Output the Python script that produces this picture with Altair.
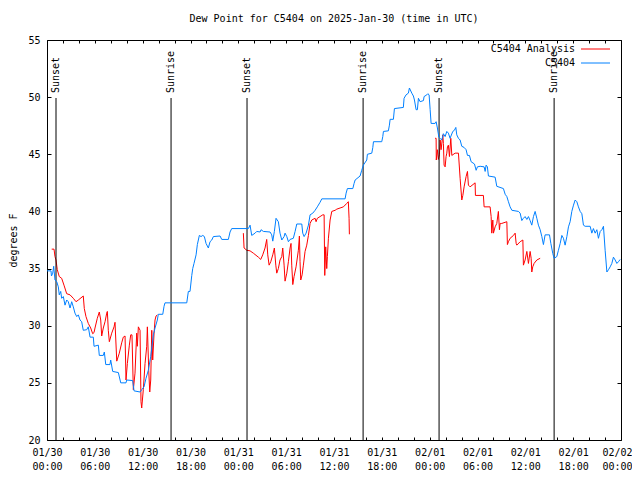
import json
import altair as alt
import pandas as pd

# ---------------- data (hours since 2025-01-30 00:00 UTC, dew point in F) ----------------
series_names = ["C5404 Analysis", "C5404"]
series_colors = ["#ff0000", "#0080ff"]

blue_hours = [0.0, 0.5, 0.56, 0.72, 0.84, 1.0, 1.22, 1.42, 1.54, 1.72, 1.84, 2.05, 2.26, 2.47, 2.67, 2.89,
              3.1, 3.3, 3.51, 3.73, 3.93, 4.14, 4.35, 4.55, 4.98, 5.18, 5.4, 5.81, 5.9, 6.44, 6.56, 7.06,
              7.19, 7.37, 7.9, 7.99, 8.24, 8.95, 9.25, 9.91, 10.0, 10.75, 10.92, 11.67, 11.88, 12.17,
              12.42, 12.71, 13.01, 13.34, 13.55, 13.84, 13.96, 14.52, 14.68, 14.8, 17.53, 17.73, 17.94,
              18.16, 18.28, 18.44, 18.7, 18.86, 19.11, 19.32, 19.54, 19.74, 19.95, 20.24, 20.45, 20.67,
              20.87, 21.71, 21.92, 22.75, 22.96, 23.17, 25.26, 25.47, 25.68, 26.1, 26.31, 26.73, 26.85,
              27.14, 27.98, 28.19, 28.32, 28.52, 28.73, 29.02, 29.23, 29.45, 29.74, 29.86, 30.08, 30.28,
              30.49, 30.9, 31.12, 31.33, 31.96, 32.08, 32.25, 32.5, 32.79, 33.0, 33.34, 33.63, 33.91,
              34.25, 34.47, 37.39, 37.52, 37.68, 38.36, 38.52, 38.65, 39.27, 39.48, 39.69, 40.11, 40.19,
              40.74, 40.87, 40.95, 41.99, 42.12, 42.2, 42.82, 42.95, 43.04, 43.45, 43.58, 44.7, 44.79,
              45.04, 45.33, 45.46, 45.76, 45.96, 46.09, 46.3, 46.46, 46.59, 46.8, 47.22, 47.3, 47.64,
              47.77, 47.93, 48.06, 48.18, 48.68, 48.81, 48.97, 49.15, 49.31, 49.52, 49.72, 49.94, 50.15,
              50.35, 50.56, 50.9, 51.1, 51.28, 51.4, 51.61, 51.82, 52.03, 52.32, 52.57, 52.74, 52.99,
              53.2, 53.62, 53.83, 53.99, 54.33, 54.83, 54.96, 55.08, 55.24, 55.37, 56.21, 56.42, 57.25,
              57.47, 57.68, 57.88, 58.09, 58.31, 59.14, 59.35, 59.56, 59.76, 59.97, 60.19, 60.39, 60.6,
              60.81, 61.02, 61.23, 61.44, 61.64, 61.86, 62.07, 62.27, 62.48, 63.03, 63.2, 63.45, 63.61,
              63.95, 64.15, 64.37, 64.58, 64.78, 64.99, 65.21, 65.41, 65.62, 65.83, 66.04, 66.25, 66.46,
              66.66, 66.88, 67.09, 67.29, 67.5, 68.13, 68.34, 68.54, 68.76, 68.97, 69.17, 69.39, 69.6,
              69.8, 70.01, 70.23, 70.43, 70.64, 70.85, 71.05, 71.27, 71.48, 71.68, 71.9]
blue_vals = [34.8, 34.8, 34.35, 34.6, 35.2, 34.0, 33.85, 33.4, 32.7, 33.0, 32.4, 32.55, 31.8, 32.25, 32.1, 31.55,
             32.1, 31.65, 31.1, 30.8, 30.95, 30.5, 30.35, 29.6, 29.65, 29.9, 29.0, 29.0, 28.2, 28.3, 27.4, 27.4,
             27.7, 26.6, 26.6, 27.0, 26.0, 25.9, 25.0, 25.0, 25.25, 25.2, 24.3, 24.2, 24.4, 24.65,
             25.4, 26.1, 27.3, 29.2, 29.8, 30.5, 31.0, 31.0, 31.7, 32.0, 32.0, 33.0, 33.0,
             34.4, 35.0, 35.45, 36.2, 37.1, 37.9, 37.8, 37.9, 37.8, 37.2, 36.8, 37.35, 37.5,
             37.8, 37.85, 37.55, 37.55, 38.2, 38.5, 38.5, 38.8, 37.9, 38.1, 38.25, 38.2, 38.4,
             38.25, 38.2, 37.95, 37.4, 38.25, 39.4, 39.1, 38.1, 37.5, 37.8, 38.1, 37.8, 37.35,
             37.55, 37.65, 38.25, 38.9, 38.9, 38.1, 37.8, 38.1, 38.8, 39.7, 39.85, 40.1, 40.4,
             40.8, 41.1, 41.1, 41.6, 42.0, 42.0, 42.45, 42.75, 43.1, 43.6, 44.06, 44.5, 45.0,
             45.1, 45.6, 46.1, 46.1, 46.55, 47.0, 47.05, 47.55, 48.06, 48.06, 49.0, 49.1, 49.9,
             50.2, 50.35, 50.8, 50.35, 50.1, 49.75, 48.9, 48.9, 49.9, 49.6, 49.7, 50.05, 50.2,
             50.3, 50.2, 48.9, 47.7, 47.7, 47.85, 47.3, 46.5, 46.4, 46.25, 46.8, 46.55, 47.0,
             46.85, 46.4, 47.0, 47.1, 47.35, 46.7, 46.4, 46.25, 45.7, 45.6, 45.4, 44.9, 44.9,
             44.35, 44.15, 43.6, 43.9, 43.95, 43.9, 43.5, 44.05, 43.9, 43.1, 43.0, 42.2, 42.0,
             41.5, 41.3, 40.85, 40.4, 40.1, 40.0, 39.85, 39.2, 39.4, 39.55, 39.3, 39.55, 39.2,
             38.8, 39.55, 40.0, 39.4, 38.8, 38.4, 37.8, 37.1, 37.95, 37.95, 37.2, 36.3, 35.9,
             36.05, 36.6, 37.2, 37.9, 37.65, 37.05, 37.8, 38.65, 39.1, 40.0, 40.55, 41.0, 40.85,
             40.4, 40.0, 39.8, 38.8, 38.7, 38.7, 38.1, 38.5, 38.1, 38.4, 37.65, 38.25, 38.4,
             38.7, 36.6, 34.7, 34.9, 35.15, 35.45, 36.0, 35.75, 35.45, 35.6, 35.8]

red1_hours = [0.59, 0.88, 1.0, 1.13, 1.29, 1.54, 1.84, 2.13, 2.47, 2.89, 3.3, 3.64, 3.93, 4.55, 4.68, 4.89,
              5.18, 5.48, 5.73, 5.9, 6.02, 6.31, 6.56, 6.74, 6.86, 7.06, 7.28, 7.49, 7.57, 7.69, 7.82,
              8.12, 8.41, 8.53, 8.75, 9.07, 9.37, 9.57, 9.79, 9.91, 10.08, 10.33, 10.5, 10.66, 10.83,
              11.04, 11.25, 11.33, 11.46, 11.67, 11.79, 11.88, 12.08, 12.3, 12.51, 12.59, 12.76, 12.89,
              13.01, 13.14, 13.26, 13.43, 13.55, 13.68, 13.84]
red1_vals = [36.7, 36.7, 36.05, 35.75, 34.9, 34.3, 34.15, 33.55, 32.8, 32.7, 32.4, 32.1, 32.25, 32.6, 31.5, 30.8,
             30.2, 29.8, 29.3, 29.4, 29.8, 30.65, 31.2, 30.5, 29.1, 29.8, 30.35, 31.1, 31.25, 29.6, 28.6,
             29.35, 29.9, 30.3, 26.9, 27.6, 28.5, 29.0, 29.1, 25.25, 26.7, 28.3, 29.2, 29.2, 24.4,
             25.85, 29.35, 28.2, 29.9, 29.6, 23.35, 22.8, 24.4, 26.7, 28.2, 29.9, 26.1, 24.2,
             25.25, 29.6, 27.0, 29.35, 30.5, 30.85, 30.95]

red2_hours = [24.63, 24.72, 25.06, 25.47, 25.88, 26.51, 26.81, 27.06, 27.35, 27.56, 27.69, 27.86, 28.07, 28.32,
              28.52, 28.7, 28.82, 29.02, 29.23, 29.45, 29.57, 29.74, 29.86, 30.08, 30.28, 30.49, 30.61, 30.7,
              30.83, 30.99, 31.24, 31.53, 31.66, 31.74, 31.83, 32.0, 32.16, 32.37, 32.58, 32.79, 33.0, 33.21,
              33.63, 33.75, 33.91, 34.25, 34.59, 34.76, 34.84, 34.96, 35.09, 35.17, 35.3, 35.51, 35.72,
              36.14, 36.35, 36.76, 37.18, 37.6, 37.8, 37.89, 37.93]
red2_vals = [38.1, 36.8, 36.6, 36.55, 36.35, 36.0, 35.8, 36.2, 36.8, 37.55, 36.2, 35.3, 35.6, 36.2,
             36.8, 35.3, 34.6, 35.0, 35.75, 36.05, 36.8, 35.3, 33.9, 34.6, 35.6, 36.8, 37.2, 35.3,
             33.6, 34.3, 35.15, 36.6, 37.85, 35.6, 34.0, 34.45, 35.3, 36.5, 37.05, 37.9, 38.95, 39.25,
             39.4, 39.1, 39.4, 39.55, 39.7, 39.7, 34.4, 36.9, 35.0, 36.05, 37.65, 39.25, 40.0,
             40.1, 40.2, 40.3, 40.4, 40.7, 40.85, 39.4, 38.0]

red3_hours = [48.68, 48.81, 48.83, 48.97, 49.09, 49.22, 49.31, 49.43, 49.65, 49.72, 49.81, 49.94, 50.06, 50.15,
              50.23, 50.35, 50.48, 50.65, 50.78, 51.19, 51.61, 51.82, 52.03, 52.16, 52.32, 52.57, 52.74,
              52.86, 53.07, 53.7, 53.74, 54.74, 54.83, 55.58, 55.71, 55.79, 55.92, 56.0, 56.21, 56.42,
              56.62, 56.75, 56.84, 57.05, 57.68, 57.75, 57.88, 58.09, 58.51, 58.72, 58.85, 58.93, 59.35,
              59.69, 59.76, 59.97, 60.19, 60.39, 60.6, 60.73, 60.81, 60.93, 61.1, 61.44, 61.86]
red3_vals = [46.4, 46.4, 44.5, 45.4, 44.55, 44.95, 46.25, 45.4, 46.7, 45.95, 44.05, 43.9, 44.8, 45.1,
             45.65, 45.8, 44.8, 46.4, 44.9, 45.1, 45.1, 42.9, 41.0, 41.4, 42.15, 43.05, 43.5,
             42.3, 42.15, 42.5, 41.4, 41.4, 40.4, 40.4, 39.55, 38.1, 39.25, 38.1, 38.65, 38.95,
             40.0, 38.4, 38.95, 38.95, 39.1, 37.1, 37.35, 37.65, 37.9, 38.1, 37.2, 37.05, 37.35,
             37.5, 35.3, 35.75, 36.5, 35.45, 36.5, 35.9, 34.7, 35.15, 35.45, 35.75, 35.9]

sun_hours = [1.13, 15.56, 25.09, 39.65, 49.18, 63.61]
sun_labels = ["Sunset", "Sunrise", "Sunset", "Sunrise", "Sunset", "Sunrise"]

x_ticks = list(range(0, 73, 2))
y_ticks = [20, 25, 30, 35, 40, 45, 50, 55]
tick_dates = ["01/30", "01/30", "01/30", "01/30", "01/31", "01/31", "01/31", "01/31",
              "02/01", "02/01", "02/01", "02/01", "02/02"]
tick_times = ["00:00", "06:00", "12:00", "18:00", "00:00", "06:00", "12:00", "18:00",
              "00:00", "06:00", "12:00", "18:00", "00:00"]

# ---------------- build tables ----------------
blue_df = pd.DataFrame({"hour": blue_hours, "value": blue_vals, "series": series_names[1], "seg": 0})
red_df = pd.concat([
    pd.DataFrame({"hour": h, "value": v, "series": series_names[0], "seg": i + 1})
    for i, (h, v) in enumerate([(red1_hours, red1_vals), (red2_hours, red2_vals), (red3_hours, red3_vals)])
], ignore_index=True)
sun_df = pd.DataFrame({"hour": sun_hours, "label": sun_labels})
ytick_df = pd.DataFrame({"v": y_ticks})

FONT = "DejaVu Sans Mono"
W, H = 574, 400

x_scale = alt.Scale(domain=[0, 72], nice=False, zero=False)
y_scale = alt.Scale(domain=[20, 55], nice=False, zero=False)
color_scale = alt.Scale(domain=series_names, range=series_colors)

label_expr = ("datum.value % 6 === 0 ? [" + json.dumps(tick_dates) + "[datum.value / 6], "
              + json.dumps(tick_times) + "[datum.value / 6]] : ''")

x_bottom = alt.Axis(values=x_ticks, labelExpr=label_expr, tickSize=3, offset=-3, domain=False, grid=False,
                    labelPadding=7, labelFont=FONT, labelFontSize=10, labelColor="black",
                    labelLineHeight=14, labelAngle=0, labelOverlap=False, labelFlush=False,
                    labelOffset={"condition": {"test": "datum.value >= 72", "value": -4}, "value": 0},
                    tickColor="black", title=None)
y_left = alt.Axis(values=y_ticks, tickSize=4, offset=-4, domain=False, grid=False, labelPadding=7,
                  labelFont=FONT, labelFontSize=10, labelColor="black", tickColor="black",
                  title="degrees F", titleFont=FONT, titleFontSize=10, titleFontWeight="normal",
                  titleColor="black", titlePadding=9)
x_top = alt.Axis(orient="top", values=x_ticks, tickSize=3, offset=-3, labels=False, domain=False,
                 grid=False, tickColor="black", title=None)
y_right = alt.Axis(orient="right", values=y_ticks, tickSize=4, offset=-4, labels=False, domain=False,
                   grid=False, tickColor="black", title=None)

# sunrise / sunset markers (carry the top mirrored tick axis)
sun_rules = alt.Chart(sun_df).mark_rule(color="black", strokeWidth=1).encode(
    x=alt.X("hour:Q", scale=x_scale, axis=x_top),
    y=alt.value(58),
    y2=alt.value(H),
)
sun_text = alt.Chart(sun_df).mark_text(angle=270, align="left", baseline="middle", font=FONT,
                                       fontSize=10, color="black").encode(
    x=alt.X("hour:Q", scale=x_scale, axis=None),
    y=alt.value(53),
    text="label:N",
)
# right-side mirrored y ticks via an invisible layer
right_axis = alt.Chart(ytick_df).mark_point(opacity=0).encode(
    y=alt.Y("v:Q", scale=y_scale, axis=y_right),
)

red_line = alt.Chart(red_df).mark_line(strokeWidth=1, clip=True).encode(
    x=alt.X("hour:Q", scale=x_scale, axis=x_bottom),
    y=alt.Y("value:Q", scale=y_scale, axis=y_left),
    color=alt.Color("series:N", scale=color_scale, legend=None),
    detail="seg:N",
)
blue_line = alt.Chart(blue_df).mark_line(strokeWidth=1, clip=True).encode(
    x=alt.X("hour:Q", scale=x_scale, axis=None),
    y=alt.Y("value:Q", scale=y_scale, axis=None),
    color=alt.Color("series:N", scale=color_scale, legend=None),
    detail="seg:N",
)

# gnuplot-style key (label left, sample line right)
key_df = pd.DataFrame({"name": series_names, "color": series_colors})
key_layers = []
for i, yy in enumerate([9, 23]):
    one = key_df.iloc[[i]]
    key_layers.append(alt.Chart(one).mark_text(align="right", baseline="middle", font=FONT, fontSize=10,
                                               color="black").encode(
        x=alt.value(528), y=alt.value(yy), text="name:N"))
    key_layers.append(alt.Chart(one).mark_rule(strokeWidth=1, color=series_colors[i]).encode(
        x=alt.value(534), x2=alt.value(563), y=alt.value(yy)))

chart = alt.layer(
    red_line, sun_rules, sun_text, right_axis, blue_line, *key_layers
).resolve_axis(
    x="independent", y="independent"
).properties(
    width=W, height=H,
    title=alt.TitleParams("Dew Point for C5404 on 2025-Jan-30 (time in UTC)", font=FONT, fontSize=10,
                          fontWeight="normal", color="black", offset=11, anchor="middle", frame="group"),
    padding={"left": 39, "top": 32, "right": 11, "bottom": 32},
    autosize=alt.AutoSizeParams(type="none"),
    background="white",
).configure_view(stroke="black", strokeWidth=1)

chart.save("out.html", embed_options={"renderer": "svg", "actions": False})
